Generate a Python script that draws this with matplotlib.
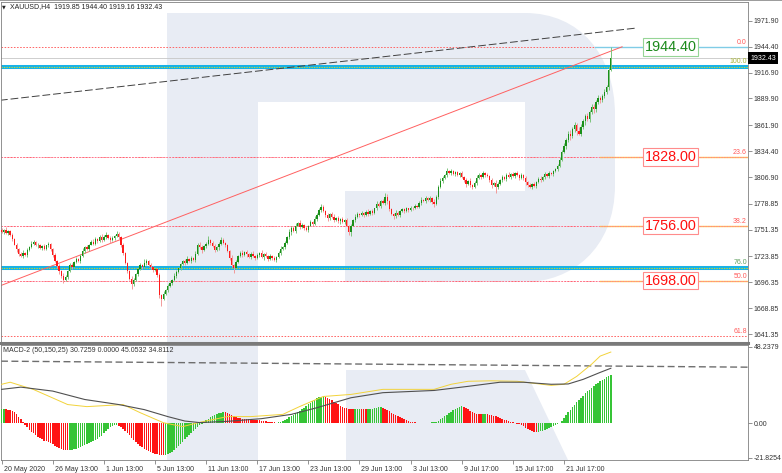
import numpy as np
import matplotlib.pyplot as plt
import matplotlib.transforms as mtransforms
from matplotlib.path import Path
from matplotlib.patches import PathPatch, Rectangle, Polygon

plt.rcParams['font.family'] = ['Liberation Sans', 'DejaVu Sans']

# ---- data ----
title_text = "XAUUSD,H4  1919.85 1944.40 1919.16 1932.43"
macd_text = "MACD-2 (50,150,25) 30.7259 0.0000 45.0532 34.8112"

first_open = 1751.0
closes = [
    1749, 1751, 1748, 1750, 1746, 1742, 1736, 1731, 1726, 1724, 1727, 1725, 1730, 1733, 1737, 1739, 1735, 1736, 1732, 1734, 1731, 1735, 1737, 1731,
    1725, 1719, 1713, 1708, 1703, 1699, 1702, 1708, 1714, 1712, 1718, 1721, 1719, 1724, 1729, 1733, 1731, 1736, 1739, 1737, 1742, 1740, 1744, 1741,
    1744, 1746, 1743, 1741, 1743, 1745, 1747, 1744, 1736, 1727, 1716, 1708, 1700, 1694, 1699, 1705, 1710, 1714, 1712, 1717, 1719, 1714, 1712, 1709,
    1710, 1704, 1683, 1679, 1684, 1688, 1692, 1695, 1699, 1703, 1707, 1711, 1715, 1719, 1717, 1721, 1719, 1722, 1720, 1726, 1736, 1733, 1730, 1734,
    1737, 1741, 1738, 1734, 1730, 1733, 1737, 1741, 1738, 1735, 1729, 1722, 1714, 1711, 1718, 1724, 1727, 1725, 1728, 1726, 1723, 1726, 1724, 1722,
    1725, 1727, 1723, 1726, 1724, 1721, 1724, 1722, 1720, 1723, 1727, 1731, 1733, 1738, 1744, 1749, 1753, 1750, 1756, 1759, 1754, 1757, 1753, 1751,
    1756, 1760, 1758, 1763, 1767, 1772, 1776, 1771, 1767, 1764, 1768, 1765, 1762, 1764, 1761, 1763, 1760, 1762, 1756, 1749, 1756, 1762, 1765, 1768,
    1767, 1769, 1767, 1770, 1768, 1771, 1769, 1774, 1779, 1777, 1782, 1780, 1786, 1782, 1773, 1768, 1766, 1769, 1767, 1771, 1773, 1771, 1774, 1772,
    1775, 1774, 1777, 1776, 1780, 1783, 1782, 1785, 1783, 1785, 1781, 1779, 1786, 1797, 1803, 1806, 1809, 1813, 1811, 1813, 1810, 1812, 1809, 1811,
    1807, 1804, 1800, 1803, 1799, 1797, 1801, 1806, 1809, 1807, 1811, 1809, 1808, 1804, 1799, 1801, 1797, 1800, 1804, 1807, 1805, 1809, 1807, 1810,
    1808, 1811, 1809, 1806, 1809, 1806, 1802, 1799, 1797, 1800, 1798, 1802, 1805, 1804, 1807, 1810, 1808, 1811, 1810, 1813, 1816, 1819, 1825, 1834,
    1840, 1846, 1853, 1850, 1858, 1862, 1856, 1853, 1860, 1866, 1871, 1868, 1876, 1881, 1879, 1886, 1890, 1888, 1893, 1897, 1902, 1919.85, 1932.43,
]
wick_up = [
    2, 1, 3, 1, 1, 2, 1, 2, 1, 2, 3, 1, 2, 1, 3, 2, 1, 2, 1, 2, 3, 1, 2, 1,
    1, 2, 1, 2, 1, 3, 2, 1, 2, 3, 1, 2, 1, 2, 3, 1, 2, 1, 2, 3, 2, 1, 2, 3,
    2, 3, 1, 2, 2, 1, 3, 2, 1, 2, 1, 2, 1, 3, 2, 1, 2, 3, 1, 4, 2, 1, 2, 1,
    2, 1, 2, 1, 3, 1, 2, 2, 1, 3, 2, 1, 2, 1, 2, 3, 1, 2, 1, 3, 2, 3, 2, 1,
    2, 4, 1, 2, 3, 1, 2, 3, 2, 1, 2, 1, 3, 1, 2, 1, 2, 3, 1, 2, 1, 2, 3, 1,
    2, 1, 3, 1, 2, 1, 2, 1, 2, 1, 2, 3, 1, 2, 1, 3, 2, 2, 3, 1, 3, 2, 1, 2,
    1, 2, 1, 3, 2, 2, 3, 2, 1, 2, 1, 2, 3, 1, 2, 1, 2, 1, 2, 1, 2, 1, 3, 2,
    1, 2, 1, 2, 3, 1, 2, 1, 3, 2, 1, 2, 4, 3, 1, 2, 1, 3, 2, 1, 2, 1, 2, 1,
    2, 1, 2, 1, 2, 3, 1, 2, 1, 2, 1, 3, 2, 2, 3, 2, 1, 4, 2, 3, 2, 1, 2, 1,
    2, 1, 2, 1, 3, 1, 2, 3, 2, 1, 2, 1, 2, 1, 2, 1, 3, 2, 1, 2, 1, 2, 3, 1,
    2, 1, 3, 1, 2, 1, 2, 1, 2, 1, 2, 1, 2, 3, 1, 2, 1, 2, 1, 2, 1, 2, 3, 2,
    3, 2, 3, 4, 2, 3, 2, 4, 3, 2, 3, 4, 2, 3, 3, 2, 4, 3, 2, 3, 2, 3, 11.97,
]
wick_dn = [
    1, 2, 1, 2, 1, 2, 1, 3, 2, 1, 2, 1, 2, 1, 1, 2, 1, 3, 1, 2, 1, 1, 2, 2,
    2, 1, 2, 3, 2, 4, 1, 2, 1, 2, 1, 2, 1, 3, 1, 2, 1, 2, 1, 2, 1, 2, 1, 2,
    1, 2, 1, 3, 1, 2, 1, 2, 3, 2, 1, 2, 1, 5, 2, 1, 2, 1, 2, 1, 3, 1, 2, 2,
    1, 2, 3, 8, 2, 1, 2, 1, 2, 1, 2, 1, 2, 1, 3, 2, 1, 2, 1, 2, 1, 2, 3, 1,
    2, 1, 2, 1, 2, 1, 3, 2, 1, 2, 1, 2, 2, 5, 1, 2, 1, 2, 1, 3, 1, 2, 1, 2,
    1, 2, 1, 3, 1, 2, 1, 2, 1, 2, 1, 2, 1, 2, 1, 2, 3, 1, 2, 1, 2, 1, 2, 1,
    2, 1, 2, 1, 2, 1, 2, 1, 2, 3, 2, 1, 2, 1, 2, 3, 1, 2, 1, 3, 4, 1, 2, 1,
    2, 1, 2, 1, 2, 1, 2, 1, 2, 1, 2, 1, 2, 3, 2, 1, 3, 2, 1, 2, 1, 2, 1, 2,
    1, 2, 1, 2, 1, 2, 1, 2, 1, 2, 2, 3, 1, 2, 1, 2, 1, 2, 1, 2, 1, 2, 1, 2,
    1, 2, 3, 1, 2, 3, 1, 2, 1, 2, 1, 2, 1, 2, 3, 1, 7, 2, 1, 2, 1, 2, 1, 2,
    1, 2, 1, 2, 1, 2, 3, 2, 1, 2, 1, 2, 1, 2, 1, 2, 1, 2, 1, 2, 1, 2, 1, 1,
    2, 3, 2, 4, 2, 3, 5, 2, 3, 2, 4, 2, 3, 2, 4, 3, 2, 3, 2, 3, 2, 3, 0.69,
]

macd_hist = [
    9.0, 9.3, 9.1, 8.6, 8.2, 7.6, 7.0, 5.8, 4.3, 2.6, 0.8, -0.9, -2.5, -3.9, -5.2, -6.3, -7.4, -8.3, -9.2, -10.0, -10.8, -11.4, -12.0, -12.6,
    -13.3, -14.1, -14.8, -15.4, -16.0, -16.5, -16.8, -17.0, -16.9, -16.6, -16.2, -15.9, -15.3, -14.8, -14.2, -13.7, -13.1, -12.4, -11.8, -11.0, -10.3, -9.6, -8.8, -8.0,
    -6.2, -4.8, -3.5, -2.4, -1.6, -1.1, -1.0, -1.4, -2.2, -3.3, -4.6, -6.0, -7.5, -9.0, -10.4, -11.7, -12.9, -14.0, -15.0, -15.9, -16.7, -17.4, -18.1, -18.7,
    -19.2, -19.6, -19.9, -20.1, -20.2, -20.0, -19.5, -18.8, -17.9, -16.8, -15.6, -14.3, -12.9, -11.5, -10.0, -8.6, -7.2, -5.9, -4.6, -3.4, -2.2, -1.1, -0.1, 0.9,
    1.9, 2.9, 3.8, 4.6, 5.3, 5.9, 6.4, 6.8, 7.0, 6.9, 6.5, 5.9, 5.1, 4.4, 3.8, 3.4, 3.1, 3.0, 2.8, 2.6, 2.5, 2.4, 2.2, 2.1,
    2.0, 1.9, 1.8, 1.6, 1.4, 1.1, 0.9, 0.7, 0.6, 0.5, 0.6, 0.9, 1.4, 2.1, 2.9, 3.8, 4.7, 5.6, 6.5, 7.3, 8.1, 9.0, 10.0, 11.0,
    12.0, 13.1, 14.1, 15.0, 15.8, 16.5, 16.9, 17.1, 16.8, 16.2, 15.4, 14.5, 13.6, 12.8, 12.0, 11.3, 10.6, 10.0, 9.5, 9.1, 8.9, 8.8, 8.9, 9.0,
    9.1, 9.0, 8.9, 8.8, 8.9, 9.1, 9.4, 9.7, 9.9, 10.1, 10.2, 10.0, 9.4, 8.6, 7.7, 6.8, 5.9, 5.1, 4.4, 3.8, 3.2, 2.6, 2.1, 1.6,
    1.2, 0.9, 0.7, 0.5, 0.4, 0.4, 0.5, 0.4, 0.3, 0.4, 0.6, 0.8, 1.0, 1.6, 2.5, 3.4, 4.4, 5.4, 6.4, 7.3, 8.2, 9.0, 9.8, 10.5,
    10.7, 10.4, 9.8, 9.0, 8.1, 7.3, 6.6, 6.1, 5.8, 5.7, 5.7, 5.8, 5.7, 5.5, 5.2, 4.8, 4.4, 3.9, 3.4, 2.9, 2.4, 1.9, 1.5, 1.1,
    0.7, 0.3, -0.1, -0.6, -1.2, -1.9, -2.7, -3.5, -4.2, -4.8, -5.2, -5.4, -5.3, -5.0, -4.6, -4.1, -3.6, -3.0, -2.4, -1.8, -1.2, -0.6, 0.2, 1.6,
    3.4, 5.3, 7.1, 8.7, 10.3, 11.8, 13.3, 14.8, 16.2, 17.6, 19.0, 20.2, 21.4, 22.6, 23.7, 24.7, 25.7, 26.6, 27.5, 28.3, 29.1, 29.9, 30.73,
]

# yellow and black indicator lines (bar index, value)
yellow_idx = [0, 4, 15, 31, 40, 57, 65, 76, 85, 93, 106, 117, 132, 140, 151, 164, 179, 203, 211, 219, 230, 242, 250, 258, 264, 270, 277, 281, 286]
yellow_val = [24.7, 26.0, 21.4, 11.9, 10.6, 11.9, 6.8, 0.4, -2.0, 0.7, 4.3, 4.3, 5.7, 10.7, 17.0, 18.3, 21.5, 21.5, 24.7, 26.6, 26.9, 26.6, 25.3, 24.0, 24.7, 29.7, 37.4, 42.5, 45.05]
black_idx = [0, 9, 24, 39, 55, 67, 78, 86, 93, 106, 122, 136, 148, 164, 179, 203, 219, 234, 245, 258, 266, 273, 281, 286]
black_val = [21.5, 22.9, 20.4, 15.1, 11.9, 8.7, 4.3, 1.5, 0.5, 1.3, 3.0, 5.7, 9.9, 16.2, 19.4, 20.8, 23.4, 26.0, 26.0, 24.7, 24.9, 27.8, 32.2, 34.81]

date_tick_idx = [0, 24, 48, 72, 96, 120, 144, 168, 192, 216, 240, 264]
date_labels = ["20 May 2020", "26 May 13:00", "1 Jun 13:00", "5 Jun 13:00", "11 Jun 13:00", "17 Jun 13:00",
               "23 Jun 13:00", "29 Jun 13:00", "3 Jul 13:00", "9 Jul 17:00", "15 Jul 17:00", "21 Jul 17:00"]
price_ticks = [1971.90, 1944.40, 1916.90, 1889.90, 1861.90, 1834.40, 1806.90, 1778.85, 1751.35, 1723.85, 1696.35, 1668.85, 1641.35]
macd_ticks = [48.2379, 0.0, -21.8254]
macd_tick_labels = ["48.2379", "0.00", "-21.8254"]

fib_levels = [1944.40, 1828.00, 1756.00, 1698.00, 1639.9]
fib_names = ["0.0", "23.6", "38.2", "50.0", "61.8"]
blue_levels = [1922.9, 1711.1]
blue_names = ["100.0", "76.0"]
boxed_levels = [1944.40, 1828.00, 1756.00, 1698.00]
current_price = 1932.43

red_trend = ([-0.8, 291.3], [1692.4, 1944.4])
black_trend = ([-0.8, 297.8], [1888.0, 1964.1])
macd_dash = ([-0.3, 350.4], [39.3, 35.5])

# ---- figure ----
W, H = 782, 473
fig = plt.figure(figsize=(W / 100, H / 100), dpi=100)
fig.patch.set_facecolor('white')


def fx(px):
    return px / W


def fy(py):
    return 1 - py / H


# watermark logo behind everything
wm = '#e8ecf4'
for (x0, y0, x1, y1) in [(167, 13, 258, 460), (257, 13, 528, 102), (345, 191, 528, 282)]:
    fig.patches.append(Rectangle((fx(x0), fy(y1)), fx(x1) - fx(x0), fy(y0) - fy(y1),
                                 transform=fig.transFigure, color=wm, lw=0, zorder=-5))
bowl = Path([(fx(525), fy(13)), (fx(580), fy(13)), (fx(615), fy(55)), (fx(615), fy(115)),
             (fx(615), fy(185)), (fx(615), fy(250)), (fx(570), fy(282)), (fx(525), fy(282)),
             (fx(525), fy(13))],
            [Path.MOVETO, Path.CURVE4, Path.CURVE4, Path.CURVE4, Path.LINETO,
             Path.CURVE4, Path.CURVE4, Path.CURVE4, Path.CLOSEPOLY])
fig.patches.append(PathPatch(bowl, transform=fig.transFigure, color=wm, lw=0, zorder=-5))
fig.patches.append(Polygon([(fx(346), fy(370)), (fx(525), fy(370)), (fx(568), fy(460)), (fx(346), fy(460))],
                           closed=True, transform=fig.transFigure, color=wm, lw=0, zorder=-5))

ax = fig.add_axes([fx(1), fy(343), fx(748) - fx(1), fy(2) - fy(343)])
ax2 = fig.add_axes([fx(1), fy(460), fx(748) - fx(1), fy(345) - fy(460)], sharex=ax)
for a in (ax, ax2):
    a.set_facecolor('none')
    for s in a.spines.values():
        s.set_color('#808080')
        s.set_linewidth(0.6)
ax.spines['bottom'].set_linewidth(2.2)
ax.spines['bottom'].set_color('#7a7a7a')

n = len(closes)
idx = np.arange(n)
c = np.array(closes, dtype=float)
o = np.array([first_open] + closes[:-1], dtype=float)
hi = np.maximum(o, c) + np.array(wick_up)
lo = np.minimum(o, c) - np.array(wick_dn)
bull = c >= o

# candles
ax.vlines(idx, lo, hi, colors=np.where(bull, '#7cc47c', '#f29a9a'), lw=0.7, zorder=3)
ax.bar(idx, np.maximum(np.abs(c - o), 0.7), bottom=np.minimum(o, c), width=0.62,
       color=np.where(bull, '#1a8f1a', '#ff1a1a'), lw=0, zorder=4)

xmin, xmax = -0.3, 350.4
ax.set_xlim(xmin, xmax)
ax.set_ylim(1632.2, 1991.6)

# horizontal levels
ax.axhline(current_price, color='#c6c6c6', lw=0.6, zorder=1)
for lv in blue_levels:
    ax.axhline(lv, color='#18b2e6', lw=2.9, zorder=2)
    ax.axhline(lv, color='#f4e000', lw=0.6, dashes=(1.5, 1.5), zorder=2)
for lv in fib_levels:
    ax.axhline(lv, color='#ff6464', lw=0.7, dashes=(1.6, 1.6), zorder=2)
for lv in boxed_levels[1:]:
    ax.plot([281, xmax], [lv, lv], color='#ffc050', lw=1.0, zorder=2)
    ax.axhline(lv, color='#ff7a9a', lw=0.6, dashes=(1.6, 1.6), zorder=2)
ax.plot([278.5, xmax], [boxed_levels[0], boxed_levels[0]], color='#80cce6', lw=1.0, zorder=2)

# trend lines
ax.plot(red_trend[0], red_trend[1], color='#ff6060', lw=0.7, zorder=2)
ax.plot(black_trend[0], black_trend[1], color='#404040', lw=0.7, dashes=(8, 3), zorder=2)

# fibo labels at the right edge
blend = mtransforms.blended_transform_factory(ax.transAxes, ax.transData)
lift = mtransforms.ScaledTranslation(0, 1 / 100, fig.dpi_scale_trans)
for lv, nm in zip(fib_levels, fib_names):
    ax.text(0.9985, lv, nm, transform=blend + lift, ha='right', va='bottom', fontsize=5, color='#ff5a5a')
for lv, nm, col in zip(blue_levels, blue_names, ['#a9b53a', '#5f9f5f']):
    ax.text(0.9985, lv, nm, transform=blend + mtransforms.ScaledTranslation(0, 2.5 / 100, fig.dpi_scale_trans),
            ha='right', va='bottom', fontsize=5, color=col)

# boxed price labels
for lv in boxed_levels:
    green = lv == boxed_levels[0]
    ax.text(314, lv, f"{lv:.2f}", ha='center', va='center', fontsize=10.4,
            color='#1c8a1c' if green else '#ff1010', zorder=6,
            bbox=dict(boxstyle='square,pad=0.12', fc='white', ec='#96d596' if green else '#ff8c8c', lw=0.8))

# price axis
ax.yaxis.tick_right()
ax.set_yticks(price_ticks)
ax.set_yticklabels([f"{p:.2f}" for p in price_ticks])
ax.tick_params(axis='y', direction='out', length=3, width=0.6, color='#808080', labelsize=5,
               labelcolor='#333333', pad=1)
ax.tick_params(axis='x', bottom=False, labelbottom=False)
ax.text(1.003, current_price, "1932.43", transform=blend, ha='left', va='center', fontsize=5,
        color='white', zorder=7, bbox=dict(boxstyle='square,pad=0.35', fc='black', ec='black', lw=0))

# MACD pane
hist = np.array(macd_hist)
rising = np.concatenate([[True], hist[1:] >= hist[:-1]])
ax2.bar(idx, hist, width=0.7, color=np.where(rising, '#36c436', '#ff1414'), lw=0, zorder=3)
ax2.plot(yellow_idx, yellow_val, color='#f2d33a', lw=0.7, zorder=4)
ax2.plot(black_idx, black_val, color='#505050', lw=0.8, zorder=4)
ax2.plot(macd_dash[0], macd_dash[1], color='#6e6e6e', lw=1.0, dashes=(5, 2.5), zorder=2)
ax2.set_ylim(-23.1, 49.5)
ax2.yaxis.tick_right()
ax2.set_yticks(macd_ticks)
ax2.set_yticklabels(macd_tick_labels)
ax2.tick_params(axis='y', direction='out', length=3, width=0.6, color='#808080', labelsize=5,
                labelcolor='#333333', pad=1)
ax2.set_xticks(date_tick_idx)
ax2.set_xticklabels(date_labels, ha='left')
ax2.tick_params(axis='x', direction='out', length=3, width=0.6, color='#808080', labelsize=5,
                labelcolor='#333333', pad=1)
shift = mtransforms.ScaledTranslation(2 / 100, 0, fig.dpi_scale_trans)
for lab in ax2.get_xticklabels():
    lab.set_transform(lab.get_transform() + shift)

# header texts
fig.text(fx(2), fy(6.5), "\u25bc", fontsize=3.5, va='center', ha='left', color='#222222',
         family=['DejaVu Sans'])
fig.text(fx(10), fy(6.5), title_text, fontsize=5, va='center', ha='left', color='#222222')
fig.text(fx(3), fy(350.5), macd_text, fontsize=5, va='center', ha='left', color='#333333')
fig.add_artist(plt.Line2D([0, 1], [fy(0.5), fy(0.5)], transform=fig.transFigure, color='#9a9a9a', lw=0.7))

fig.savefig("out.png", dpi=100, facecolor='white')
